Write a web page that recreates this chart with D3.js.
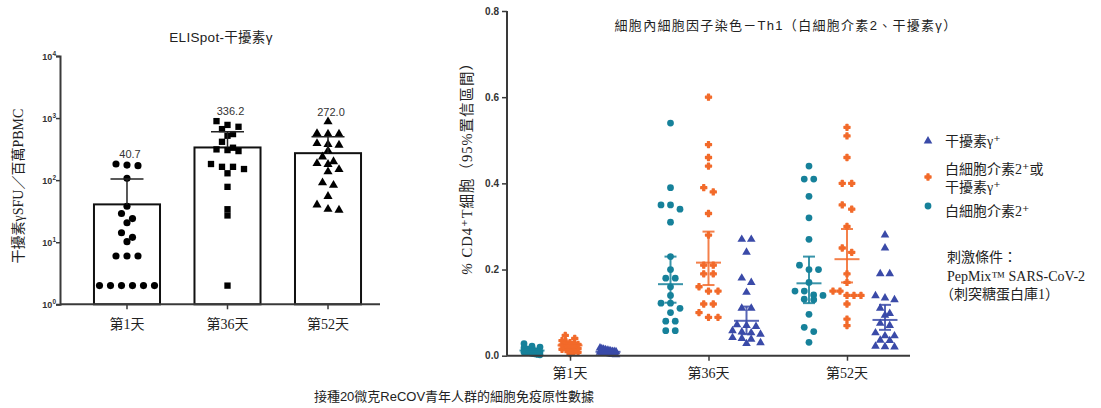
<!DOCTYPE html>
<html>
<head>
<meta charset="utf-8">
<script src="https://cdn.jsdelivr.net/npm/d3@7"></script>
<style>
  body { margin: 0; background: #fff; }
  svg { display: block; }
  .sans { font-family: "Liberation Sans", Arial, "Noto Sans CJK TC", sans-serif; }
  .serif { font-family: "Liberation Serif", "DejaVu Serif", "Noto Sans CJK TC", serif; }
</style>
</head>
<body>
<svg id="viz" width="1101" height="408"></svg>
<script>
// ---------- data ----------
const days = ["第1天", "第36天", "第52天"];

// ELISpot IFN-γ, SFU per million PBMC (left chart)
const elispotMeans = [40.7, 336.2, 272.0];
const elispotUpper = [104, 600, 500];
const elispotDay1 = [182, 171, 175, 107, 38, 29, 24, 20.6, 14.2, 12, 10.2, 6, 6, 6, 2, 2, 2, 2, 2, 2];
const elispotDay36 = [893, 776, 724, 664, 552, 519, 415, 333, 313, 305, 294, 182, 164, 164, 151, 129, 78, 34, 27, 2];
const elispotDay52 = [873, 565, 553, 553, 391, 377, 368, 298, 238, 199, 186, 180, 149, 137, 91, 83, 55, 40, 34, 33];
const yTickPowers = [0, 1, 2, 3, 4];

// intracellular cytokine staining, % CD4+ T cells (right chart)
const seriesNames = ["白細胞介素2⁺", "白細胞介素2⁺或干擾素γ⁺", "干擾素γ⁺"];
const il2 = [
  [0.028, 0.022, 0.02, 0.018, 0.016, 0.015, 0.014, 0.012, 0.012, 0.011, 0.01, 0.009, 0.008, 0.008, 0.007, 0.006, 0.005, 0.004, 0.003, 0.002],
  [0.54, 0.39, 0.35, 0.35, 0.34, 0.31, 0.23, 0.20, 0.18, 0.18, 0.16, 0.14, 0.122, 0.122, 0.11, 0.10, 0.08, 0.08, 0.058, 0.058],
  [0.44, 0.41, 0.41, 0.37, 0.32, 0.27, 0.21, 0.20, 0.20, 0.17, 0.15, 0.15, 0.141, 0.14, 0.131, 0.13, 0.096, 0.066, 0.056, 0.031]
];
const il2OrIfn = [
  [0.047, 0.04, 0.035, 0.032, 0.03, 0.028, 0.026, 0.025, 0.024, 0.022, 0.021, 0.02, 0.018, 0.017, 0.015, 0.014, 0.012, 0.01, 0.008, 0.005],
  [0.60, 0.49, 0.46, 0.44, 0.39, 0.38, 0.33, 0.28, 0.21, 0.21, 0.19, 0.19, 0.16, 0.15, 0.15, 0.12, 0.12, 0.10, 0.089, 0.089],
  [0.53, 0.51, 0.46, 0.40, 0.40, 0.35, 0.34, 0.30, 0.25, 0.24, 0.19, 0.17, 0.15, 0.15, 0.14, 0.14, 0.14, 0.12, 0.085, 0.07]
];
const ifn = [
  [0.018, 0.016, 0.015, 0.014, 0.013, 0.012, 0.011, 0.01, 0.01, 0.009, 0.008, 0.008, 0.007, 0.006, 0.006, 0.005, 0.004, 0.003, 0.003, 0.002],
  [0.27, 0.27, 0.24, 0.18, 0.17, 0.147, 0.11, 0.11, 0.072, 0.07, 0.068, 0.058, 0.055, 0.053, 0.05, 0.042, 0.04, 0.038, 0.03, 0.028],
  [0.28, 0.25, 0.19, 0.19, 0.139, 0.134, 0.13, 0.11, 0.098, 0.094, 0.075, 0.07, 0.053, 0.046, 0.046, 0.036, 0.035, 0.022, 0.02, 0.021]
];
const il2Center = [0.012, 0.166, 0.168], il2Lo = [0.009, 0.123, 0.122], il2Hi = [0.015, 0.23, 0.23];
const eitherCenter = [0.024, 0.216, 0.224], eitherLo = [0.02, 0.164, 0.17], eitherHi = [0.028, 0.288, 0.294];
const ifnCenter = [0.009, 0.081, 0.083], ifnLo = [0.007, 0.05, 0.06], ifnHi = [0.011, 0.114, 0.118];
const rightTicks = [0, 0.2, 0.4, 0.6, 0.8];

const svg = d3.select("#viz");
const axisColor = "#3a3a3a";

// simple row-based swarm, like Prism's scatter dot layout
function swarm(values, yScale, rowH, gap, maxW) {
  const pts = values.map(v => ({ v: v, y: yScale(v) })).sort((a, b) => a.y - b.y);
  const rows = [];
  let cur = null;
  pts.forEach(p => {
    if (!cur || p.y - cur.y0 > rowH) { cur = { y0: p.y, items: [] }; rows.push(cur); }
    cur.items.push(p);
  });
  rows.forEach(r => {
    const n = r.items.length;
    const sp = n > 1 ? Math.min(gap, maxW / (n - 1)) : 0;
    r.items.forEach((p, i) => { p.dx = (i - (n - 1) / 2) * sp; });
  });
  return pts;
}

// ================= left chart =================
const L = { left: 60, right: 380, top: 56, bottom: 304.3 };
const xL = d3.scaleBand().domain(days).range([59.5, 395.5]).paddingInner(0.343).paddingOuter(0.343);
const yL = d3.scaleLog().domain([1, 1e4]).range([L.bottom, L.top]);

const gL = svg.append("g");

gL.append("g")
  .selectAll("rect")
  .data(elispotMeans)
  .join("rect")
  .attr("x", (d, i) => xL(days[i]))
  .attr("y", d => yL(d))
  .attr("width", xL.bandwidth())
  .attr("height", d => yL(1) - yL(d))
  .attr("fill", "#fff")
  .attr("stroke", "#111")
  .attr("stroke-width", 2);

const leftSymbols = [d3.symbolCircle, d3.symbolSquare, d3.symbolTriangle];
const leftSizes = [40, 40, 36];
[elispotDay1, elispotDay36, elispotDay52].forEach((vals, i) => {
  const cx = xL(days[i]) + xL.bandwidth() / 2;
  const pts = swarm(vals, yL, 6, 11, 56);
  gL.append("g")
    .selectAll("path")
    .data(pts)
    .join("path")
    .attr("d", d3.symbol().type(leftSymbols[i]).size(leftSizes[i]))
    .attr("transform", d => `translate(${cx + d.dx},${d.y})`)
    .attr("fill", "#000");

  // upper error bar
  gL.append("line")
    .attr("x1", cx).attr("x2", cx)
    .attr("y1", yL(elispotMeans[i])).attr("y2", yL(elispotUpper[i]))
    .attr("stroke", "#222").attr("stroke-width", 1.5);
  gL.append("line")
    .attr("x1", cx - 16.5).attr("x2", cx + 16.5)
    .attr("y1", yL(elispotUpper[i])).attr("y2", yL(elispotUpper[i]))
    .attr("stroke", "#222").attr("stroke-width", 1.5);

  // mean label above the highest point
  gL.append("text")
    .attr("class", "sans")
    .attr("x", cx + 3)
    .attr("y", yL(d3.max(vals)) - 6)
    .attr("text-anchor", "middle")
    .attr("font-size", "11px")
    .attr("fill", "#333")
    .text(elispotMeans[i].toFixed(1));
});

// left axes
gL.append("g")
  .attr("transform", `translate(${L.left},0)`)
  .call(d3.axisLeft(yL).tickValues(yTickPowers.map(p => Math.pow(10, p))).tickSize(4).tickFormat(""))
  .call(g => g.select(".domain").attr("stroke", axisColor).attr("stroke-width", 2))
  .call(g => g.selectAll(".tick line").attr("stroke", axisColor).attr("stroke-width", 1.5));

const yLab = gL.append("g").selectAll("text")
  .data(yTickPowers)
  .join("text")
  .attr("class", "sans")
  .attr("x", L.left - 4)
  .attr("y", p => yL(Math.pow(10, p)) + 3.5)
  .attr("text-anchor", "end")
  .attr("font-size", "9px")
  .attr("font-weight", "bold")
  .attr("fill", "#333");
yLab.append("tspan").text("10");
yLab.append("tspan").attr("dy", -3.5).attr("font-size", "6.5px").text(p => p);

gL.append("g")
  .attr("transform", `translate(0,${L.bottom})`)
  .call(d3.axisBottom(xL).tickSize(5).tickFormat(""))
  .call(g => g.select(".domain").attr("d", `M${L.left},0H${L.right}`).attr("stroke", axisColor).attr("stroke-width", 2))
  .call(g => g.selectAll(".tick line").attr("stroke", axisColor).attr("stroke-width", 1.5));

gL.append("g").selectAll("text")
  .data(days)
  .join("text")
  .attr("class", "serif")
  .attr("x", d => xL(d) + xL.bandwidth() / 2)
  .attr("y", 329)
  .attr("text-anchor", "middle")
  .attr("font-size", "14px")
  .attr("fill", "#222")
  .text(d => d);

gL.append("text")
  .attr("class", "sans")
  .attr("x", 221).attr("y", 42)
  .attr("text-anchor", "middle")
  .attr("font-size", "13.5px")
  .attr("letter-spacing", "0.3px")
  .attr("fill", "#222")
  .text("ELISpot-干擾素γ");

gL.append("text")
  .attr("class", "serif")
  .attr("transform", "translate(23,186) rotate(-90)")
  .attr("text-anchor", "middle")
  .attr("font-size", "14px")
  .attr("fill", "#222")
  .text("干擾素γSFU／百萬PBMC");

// ================= right chart =================
const R = { left: 507, right: 910, top: 11, bottom: 355.7 };
const xR = d3.scalePoint().domain(days).range([R.left, R.right]).padding(0.455);
const sR = d3.scalePoint().domain(seriesNames).range([-38, 38]);
const yR = d3.scaleLinear().domain([0, 0.8]).range([R.bottom, R.top]);

const colors = ["#16819a", "#f26a2a", "#3a4aa8"];
const rightSymbols = [d3.symbolCircle, d3.symbolCross, d3.symbolTriangle];
const rightSizes = [36, 20, 32];
const rightStroke = [0, 1.3, 0];
const seriesData = [il2, il2OrIfn, ifn];
const centers = [il2Center, eitherCenter, ifnCenter];
const los = [il2Lo, eitherLo, ifnLo];
const his = [il2Hi, eitherHi, ifnHi];

const gR = svg.append("g");

seriesNames.forEach((name, s) => {
  days.forEach((day, i) => {
    const cx = xR(day) + sR(name);
    const pts = i === 0 ? swarm(seriesData[s][i], yR, 4, 9.5, 16) : swarm(seriesData[s][i], yR, 6, 9.5, 28);
    gR.append("g")
      .selectAll("path")
      .data(pts)
      .join("path")
      .attr("d", d3.symbol().type(rightSymbols[s]).size(rightSizes[s]))
      .attr("transform", d => `translate(${cx + d.dx},${d.y})`)
      .attr("fill", colors[s])
      .attr("stroke", colors[s])
      .attr("stroke-width", rightStroke[s])
      .attr("stroke-linejoin", "round");

    const eb = gR.append("g")
      .attr("stroke", colors[s])
      .attr("stroke-width", 2)
      .attr("stroke-opacity", 0.85);
    eb.append("line")
      .attr("x1", cx).attr("x2", cx)
      .attr("y1", yR(los[s][i])).attr("y2", yR(his[s][i]));
    eb.append("line")
      .attr("x1", cx - 12.5).attr("x2", cx + 12.5)
      .attr("y1", yR(centers[s][i])).attr("y2", yR(centers[s][i]));
    [los[s][i], his[s][i]].forEach(v => {
      eb.append("line")
        .attr("x1", cx - 6).attr("x2", cx + 6)
        .attr("y1", yR(v)).attr("y2", yR(v));
    });
  });
});

gR.append("g")
  .attr("transform", `translate(${R.left},0)`)
  .call(d3.axisLeft(yR).tickValues(rightTicks).tickSize(5).tickFormat(d3.format(".1f")))
  .call(g => g.select(".domain").attr("d", `M0,${R.top}V${R.bottom}`).attr("stroke", axisColor).attr("stroke-width", 2))
  .call(g => g.selectAll(".tick line").attr("stroke", axisColor).attr("stroke-width", 1.5))
  .call(g => g.selectAll(".tick text")
    .attr("class", "sans")
    .attr("font-size", "10px")
    .attr("font-weight", "bold")
    .attr("fill", "#333")
    .attr("x", -8));

gR.append("g")
  .attr("transform", `translate(0,${R.bottom})`)
  .call(d3.axisBottom(xR).tickSize(5).tickFormat(""))
  .call(g => g.select(".domain").attr("d", `M${R.left},0H${R.right}`).attr("stroke", axisColor).attr("stroke-width", 2))
  .call(g => g.selectAll(".tick line").attr("stroke", axisColor).attr("stroke-width", 1.5));

gR.append("g").selectAll("text")
  .data(days)
  .join("text")
  .attr("class", "serif")
  .attr("x", d => xR(d))
  .attr("y", 378)
  .attr("text-anchor", "middle")
  .attr("font-size", "14px")
  .attr("fill", "#222")
  .text(d => d);

gR.append("text")
  .attr("class", "sans")
  .attr("x", 786).attr("y", 30)
  .attr("text-anchor", "middle")
  .attr("font-size", "13px")
  .attr("letter-spacing", "1.3px")
  .attr("fill", "#222")
  .text("細胞內細胞因子染色－Th1（白細胞介素2、干擾素γ）");

const yTitle = gR.append("text")
  .attr("class", "serif")
  .attr("transform", "translate(472,165) rotate(-90)")
  .attr("text-anchor", "middle")
  .attr("font-size", "14.5px")
  .attr("letter-spacing", "1px")
  .attr("fill", "#222");
yTitle.append("tspan").attr("font-style", "italic").text("% ");
yTitle.append("tspan").text("CD4⁺T細胞（95%置信區間）");

// legend (drawn top-down: IFN, either, IL-2)
const legendItems = [
  { s: 2, y: 141, lines: ["干擾素γ⁺"] },
  { s: 1, y: 177, lines: ["白細胞介素2⁺或", "干擾素γ⁺"] },
  { s: 0, y: 206, lines: ["白細胞介素2⁺"] }
];
const gLeg = gR.append("g");
legendItems.forEach(item => {
  gLeg.append("path")
    .attr("d", d3.symbol().type(rightSymbols[item.s]).size(rightSizes[item.s]))
    .attr("transform", `translate(928,${item.y})`)
    .attr("fill", colors[item.s])
    .attr("stroke", colors[item.s])
    .attr("stroke-width", rightStroke[item.s])
    .attr("stroke-linejoin", "round");
  const firstY = item.lines.length > 1 ? item.y - 8 : item.y + (item.s === 0 ? 5 : 0);
  item.lines.forEach((t, k) => {
    gLeg.append("text")
      .attr("class", "serif")
      .attr("x", 945)
      .attr("y", firstY + k * 18 + 5)
      .attr("font-size", "14px")
      .attr("fill", "#222")
      .text(t);
  });
});

const noteLines = ["刺激條件：", "PepMix™ SARS-CoV-2", "（刺突糖蛋白庫1）"];
gLeg.append("g").selectAll("text")
  .data(noteLines)
  .join("text")
  .attr("class", "serif")
  .attr("x", (d, i) => i === 2 ? 940 : 947)
  .attr("y", (d, i) => 262 + i * 18.5)
  .attr("font-size", "14px")
  .attr("fill", "#222")
  .text(d => d);

// caption
svg.append("text")
  .attr("class", "sans")
  .attr("x", 454).attr("y", 401)
  .attr("text-anchor", "middle")
  .attr("font-size", "13px")
  .attr("fill", "#222")
  .text("接種20微克ReCOV青年人群的細胞免疫原性數據");
</script>
</body>
</html>
